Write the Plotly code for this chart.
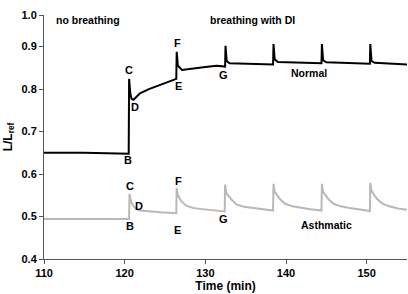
import plotly.graph_objects as go

# ---- data ----
normal_t = [110, 115, 120.5, 120.55, 120.7, 120.85, 121.1, 121.9, 123, 124.4, 125.5, 126.4,
            126.45, 126.6, 127.1, 128.5, 130, 131.4, 132.45, 132.5, 132.65, 133, 135, 138.4,
            138.45, 138.6, 139, 141.5, 144.4, 144.45, 144.6, 145, 147.5, 150.4, 150.45, 150.6,
            151, 155]
normal_v = [0.65, 0.65, 0.648, 0.824, 0.79, 0.777, 0.775, 0.79, 0.8, 0.81, 0.818, 0.824,
            0.888, 0.855, 0.845, 0.849, 0.852, 0.855, 0.853, 0.902, 0.866, 0.861, 0.86, 0.858,
            0.906, 0.87, 0.864, 0.863, 0.861, 0.906, 0.868, 0.863, 0.862, 0.86, 0.906, 0.866,
            0.862, 0.858]

asth_t = [110, 115, 120.55, 120.6, 120.8, 121.1, 121.5, 121.9, 123, 124.4, 126.4, 126.45,
          126.6, 127.05, 127.7, 128.5, 129.3, 130.5, 132.4, 132.45, 132.6, 133.3, 133.9, 134.8,
          135.9, 137, 138.4, 138.45, 138.6, 139.3, 139.9, 140.8, 141.9, 143, 144.4, 144.45,
          144.6, 145.3, 145.9, 146.8, 147.9, 149, 150.4, 150.45, 150.6, 151.3, 151.9, 152.8,
          153.9, 155]
asth_v = [0.494, 0.494, 0.494, 0.553, 0.535, 0.524, 0.517, 0.514, 0.512, 0.51, 0.508, 0.567,
          0.55, 0.535, 0.525, 0.52, 0.518, 0.515, 0.512, 0.575, 0.555, 0.539, 0.528, 0.523,
          0.52, 0.517, 0.514, 0.577, 0.558, 0.54, 0.53, 0.524, 0.52, 0.517, 0.514, 0.577,
          0.558, 0.54, 0.53, 0.524, 0.52, 0.517, 0.513, 0.579, 0.56, 0.541, 0.531, 0.524,
          0.519, 0.516]

x_ticks = [110, 120, 130, 140, 150]
y_tick_vals = [0.4, 0.5, 0.6, 0.7, 0.8, 0.9, 0.9745]
y_tick_text = ["0.4", "0.5", "0.6", "0.7", "0.8", "0.9", "1.0"]

# point labels: (text, time, value)
normal_labels = [("B", 120.4, 0.632), ("C", 120.5, 0.844), ("D", 121.3, 0.758),
                 ("E", 126.7, 0.808), ("F", 126.6, 0.909), ("G", 132.2, 0.833),
                 ("Normal", 142.8, 0.837)]
asth_labels = [("B", 120.6, 0.478), ("C", 120.6, 0.571), ("D", 121.8, 0.525),
               ("E", 126.5, 0.469), ("F", 126.7, 0.584), ("G", 132.3, 0.495),
               ("Asthmatic", 145.0, 0.481)]
phase_labels = [("no breathing", 105.2 + 10.2, 0.963), ("breathing with DI", 135.9, 0.963)]

FONT = "Liberation Sans, Arial, sans-serif"

fig = go.Figure()
fig.add_trace(go.Scatter(x=asth_t, y=asth_v, mode="lines",
                         line=dict(color="#b8b8b8", width=2), showlegend=False, hoverinfo="skip"))
fig.add_trace(go.Scatter(x=normal_t, y=normal_v, mode="lines",
                         line=dict(color="#000000", width=2), showlegend=False, hoverinfo="skip"))

for txt, xx, yy in normal_labels + asth_labels + phase_labels:
    fig.add_annotation(x=xx, y=yy, text="<b>%s</b>" % txt, showarrow=False,
                       font=dict(family=FONT, size=11 if len(txt) == 1 else 10.5, color="black"),
                       xanchor="center", yanchor="middle")

fig.update_layout(
    width=408, height=294,
    margin=dict(l=44, r=1, t=15, b=35, autoexpand=False),
    paper_bgcolor="white", plot_bgcolor="white",
    font=dict(family=FONT, color="black"),
    showlegend=False,
)
fig.update_xaxes(range=[110, 155], tickvals=x_ticks, ticks="outside", ticklen=4,
                 tickcolor="#555", showline=True, linecolor="#555", linewidth=1,
                 showgrid=False, zeroline=False, automargin=False,
                 tickfont=dict(family=FONT, size=11, color="black", weight="bold"),
                 title=dict(text="<b>Time (min)</b>", font=dict(family=FONT, size=12), standoff=2))
fig.update_yaxes(range=[0.4, 0.9745], tickvals=y_tick_vals, ticktext=y_tick_text,
                 ticks="outside", ticklen=4, tickcolor="#555", showline=True, linecolor="#555",
                 linewidth=1, showgrid=False, zeroline=False, automargin=False,
                 tickfont=dict(family=FONT, size=11, color="black", weight="bold"),
                 title=dict(text="<b>L/L<sub>ref</sub></b>", font=dict(family=FONT, size=12), standoff=6))

fig.write_html("out.html", config={"displayModeBar": False},
               post_script="document.body.style.margin='0';document.body.style.overflow='hidden';")
